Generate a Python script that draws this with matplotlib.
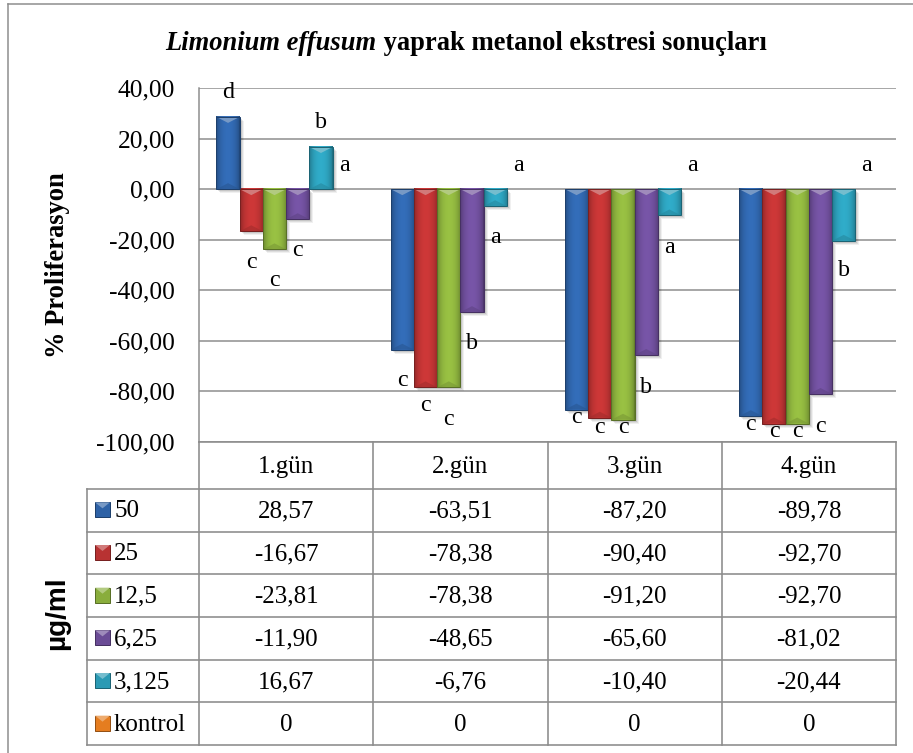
import numpy as np
import matplotlib.pyplot as plt
from matplotlib.patches import Rectangle, Polygon
from matplotlib.colors import to_rgb

plt.rcParams['font.family'] = ['Liberation Serif', 'DejaVu Serif']

gunler = ["1.gün", "2.gün", "3.gün", "4.gün"]
dozlar = ["50", "25", "12,5", "6,25", "3,125", "kontrol"]

# % proliferasyon, doz başına (µg/ml)
d50 = [28.57, -63.51, -87.20, -89.78]
d25 = [-16.67, -78.38, -90.40, -92.70]
d12_5 = [-23.81, -78.38, -91.20, -92.70]
d6_25 = [-11.90, -48.65, -65.60, -81.02]
d3_125 = [16.67, -6.76, -10.40, -20.44]
kontrol = [0, 0, 0, 0]

# istatistik harfleri
h50 = ["d", "c", "c", "c"]
h25 = ["c", "c", "c", "c"]
h12_5 = ["c", "c", "c", "c"]
h6_25 = ["c", "b", "b", "c"]
h3_125 = ["b", "a", "a", "b"]
hkontrol = ["a", "a", "a", "a"]

seriler = [d50, d25, d12_5, d6_25, d3_125, kontrol]
harfler = [h50, h25, h12_5, h6_25, h3_125, hkontrol]
renkler = ["#2E62A6", "#B83232", "#89AD3C", "#6B4C96", "#2B9AB4", "#E57D20"]

# harflerin çubuk ucundan dikey kayması (px, aşağı +)
kayma = [[-24, 31, 31, 31, -24, -24],
         [31, 18, 32, 31, 31, -24],
         [8, 10, 8, 32, 32, -24],
         [8, 8, 8, 32, 30, -24]]

W, H = 913, 753
fig = plt.figure(figsize=(W / 72, H / 72), dpi=72)

# tüm figür için piksel koordinatlı katman (çerçeve, tablo, yazılar)
bg = fig.add_axes([0, 0, 1, 1], zorder=0)
bg.set_xlim(0, W)
bg.set_ylim(H, 0)
bg.axis('off')

X0, X1, Y0, Y1 = 199, 896, 88, 442
ax = fig.add_axes([X0 / W, 1 - Y1 / H, (X1 - X0) / W, (Y1 - Y0) / H], zorder=1)
ax.patch.set_alpha(0)

grid_c = "#8C8C8C"
bg.plot([8, W], [4, 4], color=grid_c, lw=1.5)
bg.plot([8, 8], [4, H], color=grid_c, lw=1.5)


def acik(c, k):
    c = np.array(to_rgb(c))
    return tuple(c + (1 - c) * k)


def koyu(c, k):
    return tuple(np.array(to_rgb(c)) * (1 - k))


def cubuk(ax, x0, w, v, renk, px_x, px_y):
    if v == 0:
        return
    lo, hi = min(0, v), max(0, v)
    # gölge
    for i, a in enumerate([0.10, 0.08, 0.06]):
        ox = (2 + i) * px_x
        oy = (2 + i) * px_y
        ax.add_patch(Rectangle((x0 + ox, lo - oy), w, hi - lo, fc='k', alpha=a,
                               lw=0, zorder=2))
    c = np.array(to_rgb(renk))
    t = np.linspace(0, 1, 30)
    prof = 0.70 + 0.42 * np.sin(np.pi * t) ** 0.5
    img = np.clip(c[None, :] * prof[:, None], 0, 1)[None, :, :]
    ax.imshow(img, extent=(x0, x0 + w, lo, hi), aspect='auto', zorder=3,
              interpolation='bilinear')
    bh = min(6 * px_y, (hi - lo) / 2)
    ax.add_patch(Polygon([(x0, hi), (x0 + w, hi), (x0 + w / 2, hi - bh)],
                         fc=acik(renk, 0.35), lw=0, zorder=4))
    ax.add_patch(Polygon([(x0, lo), (x0 + w, lo), (x0 + w / 2, lo + bh)],
                         fc=koyu(renk, 0.12), lw=0, zorder=4, alpha=0.6))
    ax.add_patch(Rectangle((x0, lo), w, hi - lo, fill=False,
                           ec=koyu(renk, 0.35), lw=1, zorder=5))


ymin, ymax = -100, 40
px_x = 4 / (X1 - X0)
px_y = (ymax - ymin) / (Y1 - Y0)
n = len(seriler)
w = 1 / (n + 1.5)
for j, (vals, hs, renk) in enumerate(zip(seriler, harfler, renkler)):
    for i, v in enumerate(vals):
        x0 = i + 0.75 * w + j * w
        cubuk(ax, x0, w, v, renk, px_x, px_y)
        ax.annotate(hs[i], (x0 + w / 2, v), xytext=(0, -kayma[i][j]),
                    textcoords='offset points', ha='center', va='center',
                    fontsize=24, zorder=6)

ax.set_xlim(0, len(gunler))
ax.set_ylim(ymin, ymax)
ax.set_yticks(np.arange(ymin, ymax + 1, 20))
ax.set_yticklabels([f"{v:.2f}".replace('.', ',') for v in np.arange(ymin, ymax + 1, 20)])
ax.tick_params(axis='y', length=0, pad=24, labelsize=25.5)
ax.set_xticks([])
ax.grid(axis='y', color=grid_c, lw=1.5, zorder=0)
for s in ['top', 'right', 'bottom']:
    ax.spines[s].set_visible(False)
ax.spines['left'].set_color(grid_c)
ax.spines['left'].set_linewidth(1.5)

# başlık
r = fig.canvas.get_renderer()
t1 = bg.text(0, 50, "Limonium effusum", fontsize=26.5, fontweight='bold',
             fontstyle='italic', va='baseline')
t2 = bg.text(0, 50, " yaprak metanol ekstresi sonuçları", fontsize=26.5,
             fontweight='bold', va='baseline')
w1 = t1.get_window_extent(r).width
w2 = t2.get_window_extent(r).width
xs = 466 - (w1 + w2) / 2
t1.set_x(xs)
t2.set_x(xs + w1)

bg.text(58, 265, "% Proliferasyon", rotation=90, fontsize=26.5, fontweight='bold',
        ha='center', va='center')
bg.text(57, 613, "µg/ml", rotation=90, fontsize=28, fontweight='bold',
        family=['Liberation Sans', 'DejaVu Sans'], ha='center', va='center')

# veri tablosu
cols = [87] + [X0 + k * (X1 - X0) / len(gunler) for k in range(len(gunler) + 1)]
rows = [Y1, 489] + [489 + k * (745 - 489) / n for k in range(1, n + 1)]
lc = dict(color=grid_c, lw=1.6)
bg.plot([X0, X1], [Y1, Y1], **lc)
for yv in rows[1:]:
    bg.plot([cols[0], X1], [yv, yv], **lc)
bg.plot([cols[0], cols[0]], [rows[1], rows[-1]], **lc)
for xv in cols[1:]:
    bg.plot([xv, xv], [Y1, rows[-1]], **lc)

for k, g in enumerate(gunler):
    bg.text((cols[k + 1] + cols[k + 2]) / 2, (rows[0] + rows[1]) / 2 + 1, g,
            fontsize=25, ha='center', va='center')

for j, (vals, ad, renk) in enumerate(zip(seriler, dozlar, renkler)):
    yc = (rows[j + 1] + rows[j + 2]) / 2
    # lejant kutusu
    bg.add_patch(Rectangle((95, yc - 8), 15, 15, fc=renk, ec=koyu(renk, 0.35), lw=1))
    bg.add_patch(Polygon([(95, yc - 8), (110, yc - 8), (102.5, yc - 2)],
                         fc=acik(renk, 0.35), lw=0))
    bg.text(114, yc + 1, ad, fontsize=25, ha='left', va='center')
    for k, v in enumerate(vals):
        s = str(v) if isinstance(v, int) else f"{v:.2f}".replace('.', ',')
        bg.text((cols[k + 1] + cols[k + 2]) / 2, yc + 1, s, fontsize=25,
                ha='center', va='center')

fig.savefig("out.png", dpi=72, facecolor='white')
